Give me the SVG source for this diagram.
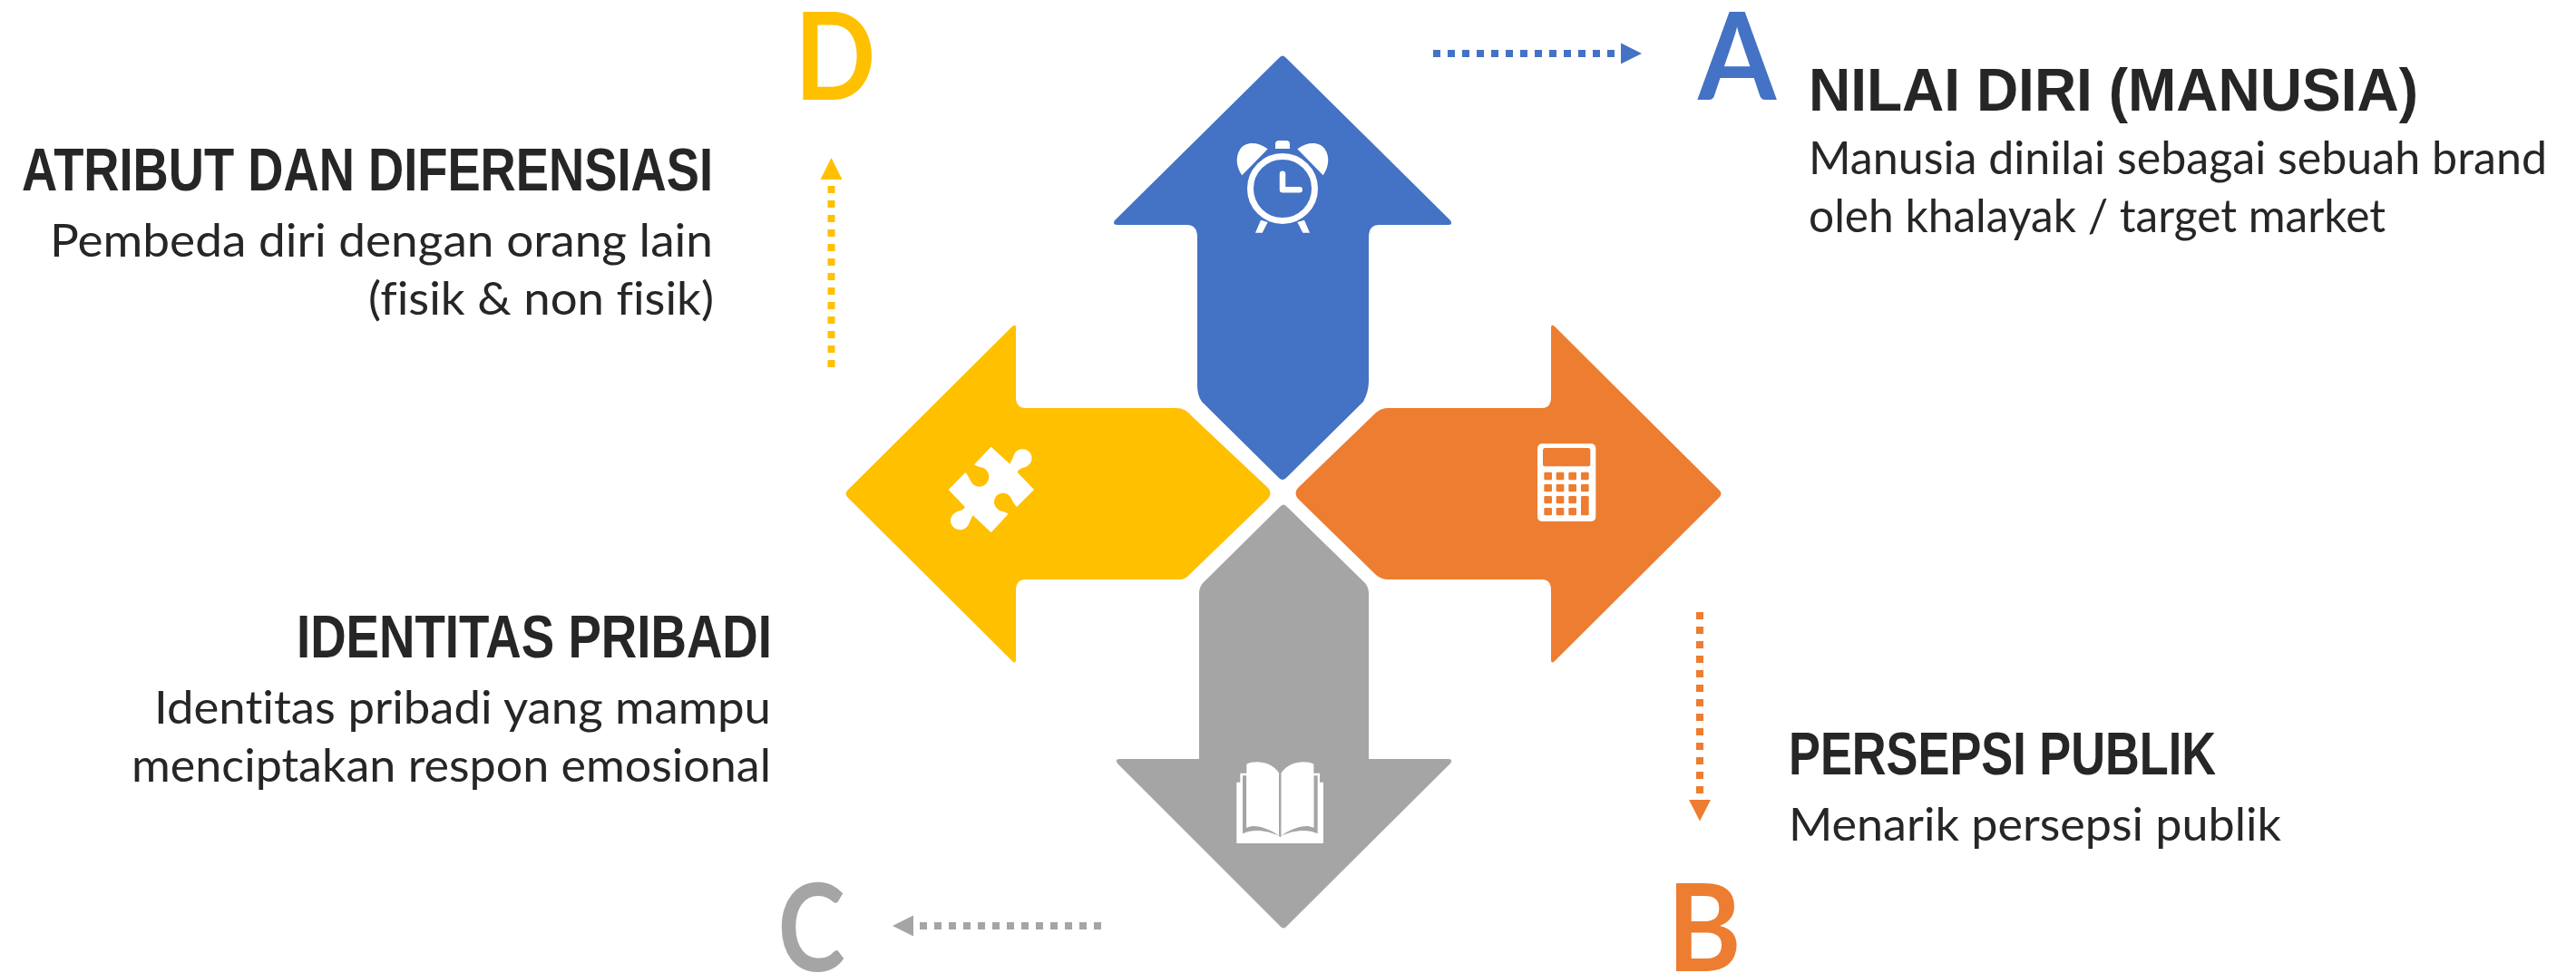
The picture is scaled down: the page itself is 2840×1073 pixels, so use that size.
<svg xmlns="http://www.w3.org/2000/svg" width="2840" height="1073" viewBox="0 0 2840 1073">
<style>
.h{font-family:"Liberation Sans",Arial,sans-serif;font-weight:700;font-size:66.5px;fill:#262626}
.s{font-family:Lato,"Open Sans",sans-serif;font-size:50px;fill:#262626;font-variant-ligatures:none}
.l{font-family:Lato,"Open Sans",sans-serif;font-weight:700;font-size:135px}
.w{fill:#fff}
.d{fill:none;stroke-width:8;stroke-dasharray:8 8}
</style>
<rect width="2840" height="1073" fill="#fff"/>
<g id="arrow-a">
<path fill="#4472C4" d="M1410 64Q1414 59 1418 64L1599 243Q1602 248 1597 248L1520 248Q1509 248 1509 262L1509 420Q1509 432 1503 443L1418 527Q1414 531 1410 527L1325 443Q1320 436 1320 425L1320 262Q1320 248 1309 248L1232 248Q1226 248 1229 243Z"/>
<g class="w">
<circle cx="1414" cy="208" r="35.5" fill="none" stroke="#fff" stroke-width="7"/>
<path d="M1406 164V159Q1406 155 1410 155H1418Q1422 155 1422 159V164Z"/>
<path d="M1397.7 164.3C1385 155 1372 157 1367 165C1361 174 1364 186 1369.3 193.3Z"/>
<path d="M1430.3 164.3C1443 155 1456 157 1461 165C1467 174 1464 186 1458.7 193.3Z"/>
<path d="M1390 242.7L1384 256.7H1391.7L1397.7 245ZM1438 242.7L1444 256.7H1436.3L1430.3 245Z"/>
<path d="M1414 191.7V209.3H1432.7" fill="none" stroke="#fff" stroke-width="6.5" stroke-linecap="round" stroke-linejoin="round"/>
</g>
</g>
<g id="arrow-b">
<path fill="#ED7D31" d="M1431 538L1516 456Q1522 450 1530 450L1700 450Q1710 450 1710 438L1710 362Q1710 356 1714 360L1895 540Q1900 544 1895 549L1714 729Q1710 733 1710 727L1710 651Q1710 639 1700 639L1530 639Q1522 639 1516 633L1431 550Q1426 544 1431 538Z"/>
<g transform="translate(1670 470) scale(.3333)">
<rect x="75" y="58" width="193" height="257" rx="15" class="w"/>
<g fill="#ED7D31">
<rect x="93" y="72" width="157" height="61" rx="8"/>
<rect x="97" y="152" width="26" height="26" rx="4"/><rect x="137" y="152" width="26" height="26" rx="4"/><rect x="178" y="152" width="26" height="26" rx="4"/><rect x="219" y="152" width="26" height="26" rx="4"/>
<rect x="97" y="192" width="26" height="25" rx="4"/><rect x="137" y="192" width="26" height="25" rx="4"/><rect x="178" y="192" width="26" height="25" rx="4"/><rect x="219" y="192" width="26" height="25" rx="4"/>
<rect x="97" y="231" width="26" height="25" rx="4"/><rect x="137" y="231" width="26" height="25" rx="4"/><rect x="178" y="231" width="26" height="25" rx="4"/><rect x="219" y="231" width="26" height="64" rx="4"/>
<rect x="97" y="270" width="26" height="25" rx="4"/><rect x="137" y="270" width="26" height="25" rx="4"/><rect x="178" y="270" width="26" height="25" rx="4"/>
</g>
</g>
</g>
<g id="arrow-c">
<path fill="#A5A5A5" d="M1411 559Q1415 554 1419 559L1505 643Q1509 648 1509 655L1509 837L1597 837Q1602 837 1599 842L1419 1021Q1415 1026 1411 1021L1232 842Q1229 837 1234 837L1322 837L1322 655Q1322 648 1326 643Z"/>
<g transform="translate(1340 820) scale(.3333)">
<path class="w" d="M70 128H82V98H345V128H357V330H70Z"/>
<g fill="#A5A5A5">
<path d="M90 106H103V278C130 265 175 280 210 305C175 290 130 280 90 298Z"/>
<path d="M338 106H325V278C298 265 253 280 218 305C253 290 298 280 338 298Z"/>
<path d="M210 97H218V306L214 310L210 306Z"/>
</g>
<path class="w" d="M103 68C130 55 185 58 210 97V300C175 275 130 265 103 278Z"/>
<path class="w" d="M325 68C298 55 243 58 218 97V300C253 275 298 265 325 278Z"/>
</g>
</g>
<g id="arrow-d">
<path fill="#FFC000" d="M935 540L1116 360Q1120 356 1120 362L1120 438Q1120 450 1131 450L1297 450Q1307 450 1314 459L1398 538Q1403 544 1398 550L1312 633Q1307 639 1300 639L1131 639Q1120 639 1120 651L1120 727Q1120 733 1116 729L935 549Q930 544 935 540Z"/>
<path class="w" transform="translate(1020 470) scale(.3333)" d="M218 68L280 125C285 115 290 105 295 92C305 72 335 70 348 90C360 110 348 132 322 138C315 140 308 145 305 152L360 210L303 267C296 260 290 250 285 240C275 215 240 215 230 240C222 262 240 280 258 283C265 285 270 287 275 290L218 352L158 295C153 302 150 312 145 322C135 347 105 350 90 330C75 310 90 285 115 280C122 278 128 274 132 268L77 210L133 153C140 160 145 172 150 180C160 205 200 210 210 175C215 150 195 135 180 135C172 133 167 130 162 127Z"/>
</g>
<g id="connectors">
<path class="d" stroke="#4472C4" d="M1580 59H1783"/><path fill="#4472C4" d="M1787 47.5V70.5L1810 59Z"/>
<path class="d" stroke="#ED7D31" d="M1874 675V876"/><path fill="#ED7D31" d="M1862 882H1886L1874 905.5Z"/>
<path class="d" stroke="#A5A5A5" d="M1214 1021H1012"/><path fill="#A5A5A5" d="M1007 1009.5V1032.5L984 1021Z"/>
<path class="d" stroke="#FFC000" d="M916.5 405V204"/><path fill="#FFC000" d="M904.5 198H928.5L916.5 174Z"/>
</g>
<g id="label-a">
<text class="l" transform="translate(1872 110) scale(.92 1)" fill="#4472C4">A</text>
<text class="h" x="1994" y="122" textLength="672" lengthAdjust="spacingAndGlyphs">NILAI DIRI (MANUSIA)</text>
<text class="s" x="1994" y="192" textLength="814" lengthAdjust="spacingAndGlyphs">Manusia dinilai sebagai sebuah brand</text>
<text class="s" x="1994" y="256" textLength="636" lengthAdjust="spacingAndGlyphs">oleh khalayak / target market</text>
</g>
<g id="label-b">
<text class="l" transform="translate(1838 1071) scale(.92 1)" fill="#ED7D31">B</text>
<text class="h" x="1972" y="854" textLength="471" lengthAdjust="spacingAndGlyphs">PERSEPSI PUBLIK</text>
<text class="s" x="1972" y="927" textLength="543" lengthAdjust="spacingAndGlyphs">Menarik persepsi publik</text>
</g>
<g id="label-c">
<text class="l" transform="translate(857.5 1071) scale(.83 1)" fill="#A5A5A5">C</text>
<text class="h" x="327" y="725" textLength="524" lengthAdjust="spacingAndGlyphs">IDENTITAS PRIBADI</text>
<text class="s" x="170" y="798" textLength="680" lengthAdjust="spacingAndGlyphs">Identitas pribadi yang mampu</text>
<text class="s" x="145" y="862" textLength="705" lengthAdjust="spacingAndGlyphs">menciptakan respon emosional</text>
</g>
<g id="label-d">
<text class="l" transform="translate(876 110) scale(.87 1)" fill="#FFC000">D</text>
<text class="h" x="24" y="210" textLength="762" lengthAdjust="spacingAndGlyphs">ATRIBUT DAN DIFERENSIASI</text>
<text class="s" x="55" y="283" textLength="731" lengthAdjust="spacingAndGlyphs">Pembeda diri dengan orang lain</text>
<text class="s" x="406" y="347" textLength="381" lengthAdjust="spacingAndGlyphs">(fisik &amp; non fisik)</text>
</g>
</svg>
